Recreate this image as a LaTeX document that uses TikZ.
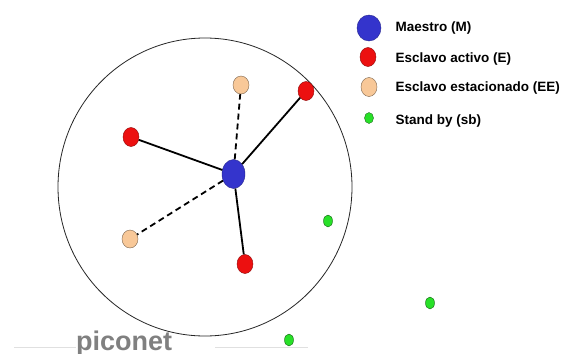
\documentclass[tikz,border=0pt]{standalone}
\usepackage{fontspec}
\setmainfont{Liberation Sans}
\usetikzlibrary{shapes.geometric}

\definecolor{mblue}{RGB}{52,52,204}
\definecolor{ared}{RGB}{236,16,16}
\definecolor{peach}{RGB}{248,200,152}
\definecolor{sbgreen}{RGB}{40,224,40}

\begin{document}
\begin{tikzpicture}[x=1pt,y=-1pt,
    dev/.style={ellipse, inner sep=0pt, line width=0.4pt},
    master/.style={dev, fill=mblue, draw=mblue!70!black, minimum width=23pt, minimum height=29pt},
    active/.style={dev, fill=ared, draw=ared!60!black, minimum width=16pt, minimum height=19pt},
    parked/.style={dev, fill=peach, draw=peach!50!black, minimum width=16pt, minimum height=18pt},
    standby/.style={dev, fill=sbgreen, draw=sbgreen!45!black, minimum width=9pt, minimum height=12pt},
    link/.style={line width=1.8pt},
    parklink/.style={link, dash pattern=on 6pt off 4pt},
    legendtext/.style={anchor=west, font=\bfseries\fontsize{13.5}{15}\selectfont}]
    \useasboundingbox[fill=white] (0,0) rectangle (566,354);

    % piconet boundary
    \node[draw=black!85, line width=0.8pt, ellipse, minimum width=294pt, minimum height=298pt] (area) at (205,187) {};
    \draw[black!12, line width=0.6pt] (14,347) -- (76,347);
    \draw[black!12, line width=0.6pt] (215,347) -- (308,347);
    \node[anchor=base west, inner sep=0pt, text=black!50, font=\bfseries\fontsize{27}{29}\selectfont] (title) at (76,350) {piconet};

    % devices
    \node[master] (m) at (233.5,174) {};
    \node[active] (e1) at (306,91) {};
    \node[active] (e2) at (131,137) {};
    \node[active] (e3) at (245,264) {};
    \node[parked] (ee1) at (241,85) {};
    \node[parked] (ee2) at (130,239) {};
    \node[standby] (sb1) at (328,221) {};
    \node[standby] (sb2) at (430,303) {};
    \node[standby] (sb3) at (289,340) {};

    % links to the master
    \draw[link] (m) -- (e1);
    \draw[link] (m) -- (e2);
    \draw[link] (m) -- (e3);
    \draw[parklink] (m) -- (ee1);
    \draw[parklink] (m) -- (ee2);

    % legend
    \node[master, minimum width=24pt, minimum height=26pt] (km) at (369,28) {};
    \node[active] (ke) at (368,57) {};
    \node[parked, minimum height=19pt] (kee) at (369,87) {};
    \node[standby, minimum height=11pt] (ksb) at (369,118) {};
    \node[legendtext] (tm) at (392,28) {Maestro (M)};
    \node[legendtext] (te) at (392,59) {Esclavo activo (E)};
    \node[legendtext] (tee) at (392,88) {Esclavo estacionado (EE)};
    \node[legendtext] (tsb) at (392,121) {Stand by (sb)};
\end{tikzpicture}
\end{document}
